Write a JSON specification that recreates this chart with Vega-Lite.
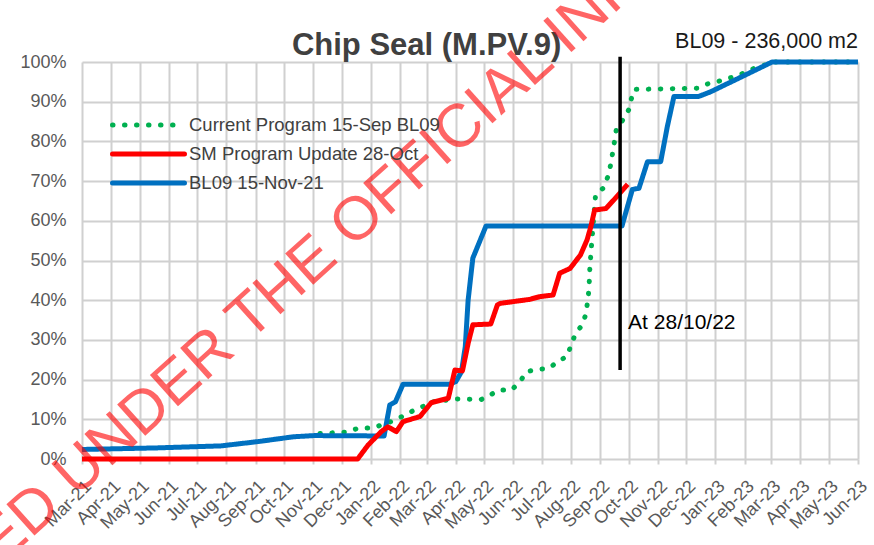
{
  "$schema": "https://vega.github.io/schema/vega-lite/v6.json",
  "width": 776,
  "height": 397,
  "autosize": {"type": "none"},
  "padding": {"left": 82, "top": 62, "right": 16, "bottom": 86},
  "background": "white",
  "config": {
    "font": "Liberation Sans",
    "view": {"stroke": null}
  },
  "datasets": {
    "lines": [
      {"s": "Current Program 15-Sep BL09", "d": "2021-11-08", "v": 0.064},
      {"s": "Current Program 15-Sep BL09", "d": "2021-12-07", "v": 0.068},
      {"s": "Current Program 15-Sep BL09", "d": "2021-12-19", "v": 0.078},
      {"s": "Current Program 15-Sep BL09", "d": "2022-01-03", "v": 0.078},
      {"s": "Current Program 15-Sep BL09", "d": "2022-01-22", "v": 0.094},
      {"s": "Current Program 15-Sep BL09", "d": "2022-02-04", "v": 0.108},
      {"s": "Current Program 15-Sep BL09", "d": "2022-02-15", "v": 0.122},
      {"s": "Current Program 15-Sep BL09", "d": "2022-02-25", "v": 0.132},
      {"s": "Current Program 15-Sep BL09", "d": "2022-03-07", "v": 0.144},
      {"s": "Current Program 15-Sep BL09", "d": "2022-04-02", "v": 0.151},
      {"s": "Current Program 15-Sep BL09", "d": "2022-04-28", "v": 0.150},
      {"s": "Current Program 15-Sep BL09", "d": "2022-05-08", "v": 0.162},
      {"s": "Current Program 15-Sep BL09", "d": "2022-05-17", "v": 0.174},
      {"s": "Current Program 15-Sep BL09", "d": "2022-05-30", "v": 0.174},
      {"s": "Current Program 15-Sep BL09", "d": "2022-06-08", "v": 0.195},
      {"s": "Current Program 15-Sep BL09", "d": "2022-06-15", "v": 0.220},
      {"s": "Current Program 15-Sep BL09", "d": "2022-06-27", "v": 0.226},
      {"s": "Current Program 15-Sep BL09", "d": "2022-07-08", "v": 0.228},
      {"s": "Current Program 15-Sep BL09", "d": "2022-07-18", "v": 0.245},
      {"s": "Current Program 15-Sep BL09", "d": "2022-07-28", "v": 0.259},
      {"s": "Current Program 15-Sep BL09", "d": "2022-08-01", "v": 0.287},
      {"s": "Current Program 15-Sep BL09", "d": "2022-08-06", "v": 0.317},
      {"s": "Current Program 15-Sep BL09", "d": "2022-08-13", "v": 0.338},
      {"s": "Current Program 15-Sep BL09", "d": "2022-08-17", "v": 0.367},
      {"s": "Current Program 15-Sep BL09", "d": "2022-08-20", "v": 0.426},
      {"s": "Current Program 15-Sep BL09", "d": "2022-08-21", "v": 0.484},
      {"s": "Current Program 15-Sep BL09", "d": "2022-08-23", "v": 0.547},
      {"s": "Current Program 15-Sep BL09", "d": "2022-08-25", "v": 0.606},
      {"s": "Current Program 15-Sep BL09", "d": "2022-08-27", "v": 0.665},
      {"s": "Current Program 15-Sep BL09", "d": "2022-09-04", "v": 0.682},
      {"s": "Current Program 15-Sep BL09", "d": "2022-09-09", "v": 0.711},
      {"s": "Current Program 15-Sep BL09", "d": "2022-09-12", "v": 0.741},
      {"s": "Current Program 15-Sep BL09", "d": "2022-09-16", "v": 0.799},
      {"s": "Current Program 15-Sep BL09", "d": "2022-09-18", "v": 0.830},
      {"s": "Current Program 15-Sep BL09", "d": "2022-09-26", "v": 0.858},
      {"s": "Current Program 15-Sep BL09", "d": "2022-10-01", "v": 0.879},
      {"s": "Current Program 15-Sep BL09", "d": "2022-10-04", "v": 0.908},
      {"s": "Current Program 15-Sep BL09", "d": "2022-10-07", "v": 0.931},
      {"s": "Current Program 15-Sep BL09", "d": "2022-12-13", "v": 0.934},
      {"s": "Current Program 15-Sep BL09", "d": "2022-12-24", "v": 0.945},
      {"s": "Current Program 15-Sep BL09", "d": "2023-01-05", "v": 0.952},
      {"s": "Current Program 15-Sep BL09", "d": "2023-01-18", "v": 0.961},
      {"s": "Current Program 15-Sep BL09", "d": "2023-01-30", "v": 0.971},
      {"s": "Current Program 15-Sep BL09", "d": "2023-02-11", "v": 0.984},
      {"s": "Current Program 15-Sep BL09", "d": "2023-02-22", "v": 0.992},
      {"s": "Current Program 15-Sep BL09", "d": "2023-03-01", "v": 1.0},
      {"s": "Current Program 15-Sep BL09", "d": "2023-06-01", "v": 1.0},

      {"s": "BL09 15-Nov-21", "d": "2021-03-01", "v": 0.024},
      {"s": "BL09 15-Nov-21", "d": "2021-05-20", "v": 0.028},
      {"s": "BL09 15-Nov-21", "d": "2021-07-26", "v": 0.033},
      {"s": "BL09 15-Nov-21", "d": "2021-09-04", "v": 0.044},
      {"s": "BL09 15-Nov-21", "d": "2021-10-11", "v": 0.056},
      {"s": "BL09 15-Nov-21", "d": "2021-11-02", "v": 0.059},
      {"s": "BL09 15-Nov-21", "d": "2022-01-15", "v": 0.058},
      {"s": "BL09 15-Nov-21", "d": "2022-01-21", "v": 0.136},
      {"s": "BL09 15-Nov-21", "d": "2022-01-27", "v": 0.144},
      {"s": "BL09 15-Nov-21", "d": "2022-02-04", "v": 0.188},
      {"s": "BL09 15-Nov-21", "d": "2022-03-25", "v": 0.188},
      {"s": "BL09 15-Nov-21", "d": "2022-04-01", "v": 0.195},
      {"s": "BL09 15-Nov-21", "d": "2022-04-07", "v": 0.220},
      {"s": "BL09 15-Nov-21", "d": "2022-04-11", "v": 0.283},
      {"s": "BL09 15-Nov-21", "d": "2022-04-14", "v": 0.400},
      {"s": "BL09 15-Nov-21", "d": "2022-04-19", "v": 0.506},
      {"s": "BL09 15-Nov-21", "d": "2022-05-03", "v": 0.587},
      {"s": "BL09 15-Nov-21", "d": "2022-09-24", "v": 0.587},
      {"s": "BL09 15-Nov-21", "d": "2022-10-05", "v": 0.679},
      {"s": "BL09 15-Nov-21", "d": "2022-10-12", "v": 0.682},
      {"s": "BL09 15-Nov-21", "d": "2022-10-21", "v": 0.749},
      {"s": "BL09 15-Nov-21", "d": "2022-11-04", "v": 0.749},
      {"s": "BL09 15-Nov-21", "d": "2022-11-11", "v": 0.837},
      {"s": "BL09 15-Nov-21", "d": "2022-11-18", "v": 0.913},
      {"s": "BL09 15-Nov-21", "d": "2022-12-14", "v": 0.913},
      {"s": "BL09 15-Nov-21", "d": "2022-12-27", "v": 0.925},
      {"s": "BL09 15-Nov-21", "d": "2023-03-02", "v": 1.0},
      {"s": "BL09 15-Nov-21", "d": "2023-06-01", "v": 1.0},

      {"s": "SM Program Update 28-Oct", "d": "2021-03-01", "v": 0.0},
      {"s": "SM Program Update 28-Oct", "d": "2021-12-18", "v": 0.0},
      {"s": "SM Program Update 28-Oct", "d": "2021-12-29", "v": 0.035},
      {"s": "SM Program Update 28-Oct", "d": "2022-01-12", "v": 0.069},
      {"s": "SM Program Update 28-Oct", "d": "2022-01-19", "v": 0.081},
      {"s": "SM Program Update 28-Oct", "d": "2022-01-28", "v": 0.069},
      {"s": "SM Program Update 28-Oct", "d": "2022-02-04", "v": 0.094},
      {"s": "SM Program Update 28-Oct", "d": "2022-02-22", "v": 0.107},
      {"s": "SM Program Update 28-Oct", "d": "2022-03-06", "v": 0.142},
      {"s": "SM Program Update 28-Oct", "d": "2022-03-24", "v": 0.153},
      {"s": "SM Program Update 28-Oct", "d": "2022-03-31", "v": 0.224},
      {"s": "SM Program Update 28-Oct", "d": "2022-04-08", "v": 0.222},
      {"s": "SM Program Update 28-Oct", "d": "2022-04-14", "v": 0.291},
      {"s": "SM Program Update 28-Oct", "d": "2022-04-19", "v": 0.338},
      {"s": "SM Program Update 28-Oct", "d": "2022-05-08", "v": 0.340},
      {"s": "SM Program Update 28-Oct", "d": "2022-05-15", "v": 0.388},
      {"s": "SM Program Update 28-Oct", "d": "2022-05-18", "v": 0.392},
      {"s": "SM Program Update 28-Oct", "d": "2022-06-18", "v": 0.402},
      {"s": "SM Program Update 28-Oct", "d": "2022-06-29", "v": 0.409},
      {"s": "SM Program Update 28-Oct", "d": "2022-07-13", "v": 0.413},
      {"s": "SM Program Update 28-Oct", "d": "2022-07-20", "v": 0.468},
      {"s": "SM Program Update 28-Oct", "d": "2022-07-31", "v": 0.480},
      {"s": "SM Program Update 28-Oct", "d": "2022-08-11", "v": 0.514},
      {"s": "SM Program Update 28-Oct", "d": "2022-08-18", "v": 0.552},
      {"s": "SM Program Update 28-Oct", "d": "2022-08-22", "v": 0.585},
      {"s": "SM Program Update 28-Oct", "d": "2022-08-26", "v": 0.627},
      {"s": "SM Program Update 28-Oct", "d": "2022-09-07", "v": 0.631},
      {"s": "SM Program Update 28-Oct", "d": "2022-09-17", "v": 0.657},
      {"s": "SM Program Update 28-Oct", "d": "2022-09-30", "v": 0.692}
    ]
  },
  "encoding": {
    "x": {
      "field": "d",
      "type": "temporal",
      "scale": {"domain": [{"year": 2021, "month": 3, "date": 1}, {"year": 2023, "month": 6, "date": 1}]},
      "axis": {
        "title": null,
        "format": "%b-%y",
        "tickCount": {"interval": "month", "step": 1},
        "labelAngle": -45,
        "labelFontSize": 18,
        "labelColor": "#595959",
        "labelPadding": 13,
        "labelOverlap": false,
        "labelFlush": false,
        "labelBound": false,
        "grid": true,
        "gridColor": "#D0D0D0",
        "gridWidth": 2,
        "domain": false,
        "ticks": true,
        "tickColor": "#D0D0D0",
        "tickWidth": 2,
        "tickSize": 5
      }
    },
    "y": {
      "field": "v",
      "type": "quantitative",
      "scale": {"domain": [0, 1], "nice": false},
      "axis": {
        "title": null,
        "format": ".0%",
        "values": [0, 0.1, 0.2, 0.3, 0.4, 0.5, 0.6, 0.7, 0.8, 0.9, 1],
        "labelFontSize": 18,
        "labelColor": "#595959",
        "labelPadding": 16,
        "grid": true,
        "gridColor": "#D0D0D0",
        "gridWidth": 2,
        "domain": false,
        "ticks": false
      }
    }
  },
  "layer": [
    {
      "data": {"name": "lines"},
      "transform": [{"filter": "datum.s === 'Current Program 15-Sep BL09'"}],
      "mark": {"type": "line", "strokeWidth": 5, "strokeCap": "round"},
      "encoding": {
        "color": {
          "field": "s", "type": "nominal",
          "scale": {"domain": ["Current Program 15-Sep BL09", "SM Program Update 28-Oct", "BL09 15-Nov-21"], "range": ["#00B050", "#FF0000", "#0070C0"]},
          "legend": {
            "title": null, "orient": "none", "legendX": 28, "legendY": 54,
            "symbolType": "stroke", "symbolSize": 5184, "symbolStrokeWidth": 5,
            "clipHeight": 18,
            "labelFontSize": 18.5, "labelColor": "#404040", "labelLimit": 400,
            "labelOffset": 2, "rowPadding": 10, "padding": 0,
            "encode": {"symbols": {"update": {"strokeCap": {"value": "round"}}}}
          }
        },
        "strokeDash": {
          "field": "s", "type": "nominal",
          "scale": {"domain": ["Current Program 15-Sep BL09", "SM Program Update 28-Oct", "BL09 15-Nov-21"], "range": [[0.5, 11.5], [1, 0], [1, 0]]},
          "legend": {
            "title": null, "orient": "none", "legendX": 28, "legendY": 54,
            "symbolType": "stroke", "symbolSize": 5184, "symbolStrokeWidth": 5,
            "clipHeight": 18,
            "labelFontSize": 18.5, "labelColor": "#404040", "labelLimit": 400,
            "labelOffset": 2, "rowPadding": 10, "padding": 0,
            "encode": {"symbols": {"update": {"strokeCap": {"value": "round"}}}}
          }
        }
      }
    },
    {
      "data": {"name": "lines"},
      "transform": [{"filter": "datum.s === 'BL09 15-Nov-21'"}],
      "mark": {"type": "line", "strokeWidth": 5, "strokeJoin": "round"},
      "encoding": {
        "color": {"field": "s", "type": "nominal"},
        "strokeDash": {"field": "s", "type": "nominal"}
      }
    },
    {
      "data": {"name": "lines"},
      "transform": [{"filter": "datum.s === 'SM Program Update 28-Oct'"}],
      "mark": {"type": "line", "strokeWidth": 5, "strokeJoin": "round"},
      "encoding": {
        "color": {"field": "s", "type": "nominal"},
        "strokeDash": {"field": "s", "type": "nominal"}
      }
    },
    {
      "data": {"values": [{"d": "2022-09-22", "v": 1.013, "v2": 0.224}]},
      "mark": {"type": "rule", "color": "#000000", "strokeWidth": 3.5},
      "encoding": {
        "y2": {"field": "v2"}
      }
    },
    {
      "data": {"values": [{"d": "2022-09-22", "v": 0.343, "t": "At 28/10/22"}]},
      "mark": {"type": "text", "align": "left", "baseline": "middle", "dx": 8, "fontSize": 21, "color": "#000000"},
      "encoding": {"text": {"field": "t"}}
    },
    {
      "data": {"values": [{"d": "2023-06-01", "v": 1.035, "t": "BL09 - 236,000 m2"}]},
      "mark": {"type": "text", "align": "right", "baseline": "alphabetic", "fontSize": 21.5, "color": "#1A1A1A"},
      "encoding": {"text": {"field": "t"}}
    },
    {
      "data": {"values": [{"d": "2022-03-01", "v": 1.0176, "t": "Chip Seal (M.PV.9)"}]},
      "mark": {"type": "text", "align": "center", "baseline": "alphabetic", "fontSize": 31, "fontWeight": "bold", "color": "#404040"},
      "encoding": {"text": {"field": "t"}}
    },
    {
      "data": {"values": [{"d": "2022-01-21", "v": 0.674, "t": "RELEASED UNDER THE OFFICIAL INFORMATION ACT"}]},
      "mark": {"type": "text", "align": "center", "baseline": "middle", "angle": -42, "fontSize": 61, "color": "#FF0000", "opacity": 0.6},
      "encoding": {"text": {"field": "t"}}
    }
  ]
}
